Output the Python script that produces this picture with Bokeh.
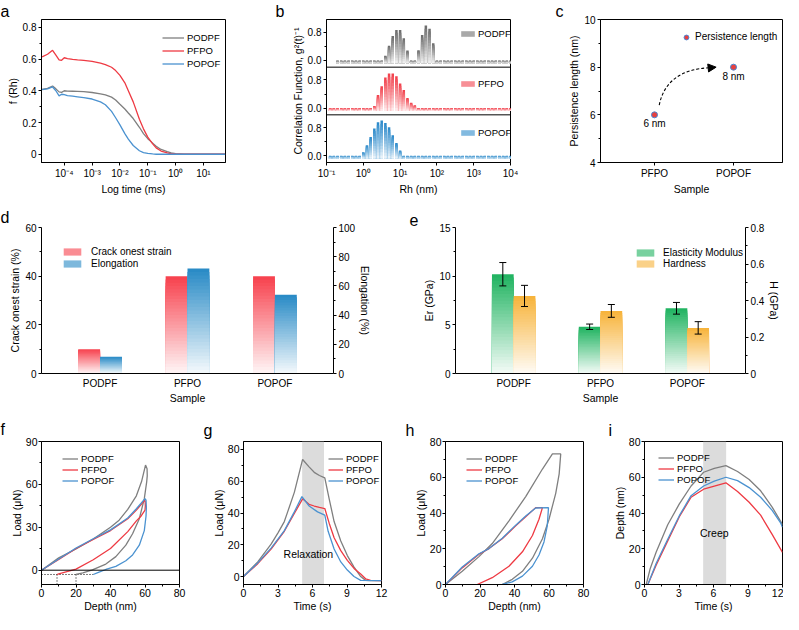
from bokeh.plotting import figure
from bokeh.layouts import row, column
from bokeh.models import (Range1d, LinearAxis, FixedTicker, Legend, LegendItem, Label, Span, Title,
                          BoxAnnotation, Arrow, NormalHead, CustomJSTickFormatter,
                          ColumnDataSource, FactorRange)
from bokeh.transform import dodge
from bokeh.core.properties import value
from bokeh.embed import file_html
from bokeh.resources import INLINE

FONT = "Liberation Sans"
GREY = "#7f7f7f"
RED = "#ee3a43"
BLUE = "#4b92d0"

series = ["PODPF", "PFPO", "POPOF"]
line_colors = [GREY, RED, BLUE]

# ---------------- (a) DLS decay ----------------
a_time = [1.6e-5, 2.5e-5, 3.8e-5, 5e-5, 6.5e-5, 8e-5, 1e-4, 1.3e-4, 2e-4, 3e-4, 5e-4, 1e-3,
          2e-3, 3e-3, 5e-3, 7e-3, 1e-2, 1.5e-2, 2e-2, 3e-2, 5e-2, 7e-2, 0.1, 0.15, 0.2, 0.3,
          0.5, 0.7, 1, 2, 5, 10, 60]
a_podpf = [0.409, 0.415, 0.430, 0.412, 0.393, 0.390, 0.400, 0.398, 0.397, 0.396, 0.394, 0.389,
           0.381, 0.374, 0.360, 0.342, 0.315, 0.285, 0.260, 0.225, 0.170, 0.130, 0.098, 0.070,
           0.050, 0.030, 0.016, 0.009, 0.004, 0.001, 0.0, 0.0, 0.0]
a_pfpo = [0.613, 0.630, 0.655, 0.625, 0.595, 0.592, 0.608, 0.603, 0.598, 0.595, 0.592, 0.585,
          0.574, 0.565, 0.548, 0.527, 0.497, 0.450, 0.400, 0.330, 0.220, 0.160, 0.108, 0.065,
          0.040, 0.020, 0.008, 0.003, 0.001, 0.0, 0.0, 0.0, 0.0]
a_popof = [0.407, 0.412, 0.424, 0.400, 0.368, 0.378, 0.375, 0.370, 0.366, 0.362, 0.357, 0.348,
           0.330, 0.312, 0.270, 0.230, 0.185, 0.130, 0.095, 0.055, 0.022, 0.010, 0.005, 0.002,
           0.0, 0.0, 0.0, 0.0, 0.0, 0.0, 0.0, 0.0, 0.0]

# ---------------- (b) size distribution (log10 Rh bins) ----------------
rh_exp = [-0.9, -0.8, -0.7, -0.6, -0.5, -0.4, -0.3, -0.2, -0.1, 0.0, 0.1, 0.2, 0.3, 0.4, 0.5,
          0.6, 0.7, 0.8, 0.9, 1.0, 1.1, 1.2, 1.3, 1.4, 1.5, 1.6, 1.7, 1.8, 1.9, 2.0, 2.1, 2.2,
          2.3, 2.4, 2.5, 2.6, 2.7, 2.8, 2.9, 3.0, 3.1, 3.2, 3.3, 3.4, 3.5, 3.6, 3.7, 3.8, 3.9, 4.0]
b_podpf = [None, None, 0, 0, 0, 0, 0, 0, 0, 0, 0, 0, 0, 0, 0,
           0.13, 0.42, 0.69, 0.86, 0.86, 0.63, 0.28, 0, 0, 0.29, 0.72, 0.99, 0.90, 0.49, 0, 0, 0,
           0, 0, 0, 0, 0, 0, 0, 0, 0, 0, 0, 0, 0, 0, 0, 0, 0, 0]
b_pfpo = [0, 0, 0, 0, 0, 0, 0, 0, 0, 0, 0, 0, 0.06, 0.37, 0.62,
          0.87, 0.98, 0.98, 0.90, 0.70, 0.51, 0.29, 0.15, 0.08, 0, 0, 0, 0, 0, 0, 0, 0,
          0, 0, 0, 0, 0, 0, 0, 0, 0, 0, 0, 0, 0, 0, 0, 0, 0, 0]
b_popof = [0, 0, 0, 0, 0, 0, 0, 0, 0, 0.10, 0.30, 0.53, 0.77, 0.95, 1.00,
           0.93, 0.81, 0.58, 0.36, 0.15, 0, 0, 0, 0, 0, 0, 0, 0, 0, 0, 0, 0,
           0, 0, 0, 0, 0, 0, 0, 0, 0, 0, 0, 0, 0, 0, 0, 0, 0, 0]

# ---------------- (c) persistence length ----------------
pl_samples = ["PFPO", "POPOF"]
pl_pos = [1, 2]
pl_nm = [6, 8]

# ---------------- (d) strain ----------------
crack_strain = [10, 40, 40]
elongation = [11.5, 72, 54]

# ---------------- (e) nanoindentation ----------------
er_mean = [10.2, 4.8, 6.7]
er_err = [1.2, 0.28, 0.6]
h_mean = [0.425, 0.343, 0.25]
h_err = [0.058, 0.035, 0.034]

# ---------------- (f) load-depth loops ----------------
f_podpf_d = [0, 10, 20, 30, 40, 45, 50, 55, 58, 60.3, 61.2, 61.3, 61.0, 59.6, 56.7, 52.8, 48.9, 43.1, 37.3, 29.5, 24, 20]
f_podpf_l = [0, 8.6, 14.8, 21.8, 30, 35, 42.5, 52, 62, 73.5, 71, 66, 62, 50, 36, 25.5, 17.5, 9.5, 4.3, 0.2, -1.8, -3]
f_pfpo_d = [0, 10, 20, 30, 40, 50, 55, 59.8, 60.1, 60.2, 60.0, 57.5, 55, 50, 40, 30, 20, 10, 9]
f_pfpo_l = [0, 7.5, 15.2, 21.5, 27.7, 36, 42, 48.8, 48.3, 45, 42, 37.5, 34.5, 27, 15.2, 7.3, 0.8, -2.5, -3]
f_popof_d = [0, 10, 20, 30, 40, 50, 55, 60, 60.6, 60.8, 60.6, 59.6, 56.7, 52.8, 48.9, 43.1, 37.3, 33, 30]
f_popof_l = [0, 7.8, 15.5, 22, 28.2, 36.5, 43, 50, 49, 44, 37.9, 27.7, 17.5, 10.7, 6.6, 2.7, 0.5, -1.5, -3]
f_cross_depth = [9, 20]
f_base_load = -3
f_dot_end = 30

# ---------------- (g) load-time (relaxation) ----------------
g_podpf_t = [0, 1.24, 2.4, 3.0, 3.55, 3.84, 4.42, 5.14, 5.7, 6.15, 6.6, 7.07, 7.45, 7.88, 8.46, 9.03, 9.6, 10.19, 10.62, 11.0, 12]
g_podpf_l = [0, 9.2, 20.4, 27.5, 34.6, 40.7, 53, 73.7, 69, 65.6, 63.6, 62.1, 48.9, 34.6, 22.4, 13.2, 6.1, 0, -2.4, -2.6, -2.6]
g_pfpo_t = [0, 1.24, 2.4, 3.55, 4.42, 5.14, 5.7, 6.15, 6.6, 7.07, 7.45, 7.88, 8.46, 9.03, 9.61, 10.19, 10.62, 11.05, 12]
g_pfpo_l = [0, 8.1, 17.3, 28.5, 39.7, 48.9, 45.5, 44.4, 43.5, 42.8, 33.6, 24.4, 16.3, 10.2, 5.1, 1.6, -1.4, -2.4, -2.6]
g_popof_t = [0, 1.24, 2.4, 3.55, 4.42, 5.08, 5.71, 6.44, 7.07, 7.36, 7.88, 8.46, 9.03, 9.61, 10.19, 12]
g_popof_l = [0, 8.6, 17.9, 28.9, 40.7, 50.3, 44.4, 40.7, 38.7, 28.5, 17.3, 9.2, 4.1, 0, -2.4, -2.6]
relax_window = [5.1, 7.0]

# ---------------- (h) load-depth (creep test) ----------------
h_podpf_d = [0, 9.7, 19.4, 27.1, 36.8, 46.5, 56.2, 62, 66.8, 65.9, 63.9, 60, 56.2, 50.4, 44.6, 38.7, 32.9]
h_podpf_l = [0, 7.4, 15.6, 22.9, 35.6, 49.2, 64.6, 73.1, 73.1, 61.9, 51, 36.5, 25.6, 14.7, 7.4, 2.9, 0]
h_pfpo_d = [0, 9.7, 19.4, 25.2, 32.9, 40.7, 46.5, 52.3, 56.2, 54.2, 50.4, 44.6, 36.8, 27.1, 18.4]
h_pfpo_l = [0, 9.3, 16.9, 20.1, 25.6, 32.8, 37.9, 43, 43, 36.5, 27.4, 18.3, 10.2, 3.8, 0]
h_popof_d = [0, 9.7, 19.4, 25.2, 32.9, 40.7, 46.5, 52.3, 59.7, 59, 57.1, 54.2, 50.4, 44.6, 38.7, 32.9]
h_popof_l = [0, 9.8, 17.2, 20.1, 25.9, 33.2, 38.3, 42.8, 43, 32.8, 23.8, 16.5, 10.2, 4.7, 1.5, 0]

# ---------------- (i) depth-time (creep) ----------------
i_podpf_t = [0.15, 0.5, 1.01, 2.02, 3.03, 4.05, 5.14, 6.07, 7.08, 8.09, 9.1, 10.1, 11.1, 11.85, 12]
i_podpf_d = [0, 9, 18, 33.4, 45.1, 55.1, 62.8, 65, 66.5, 63.2, 58.7, 52.4, 43.3, 35.2, 33.4]
i_pfpo_t = [0.29, 1.01, 2.02, 3.03, 4.05, 5.14, 6.07, 7.08, 8.09, 9.1, 10.1, 11.1, 12]
i_pfpo_d = [0, 10.8, 24.4, 37.9, 48.8, 53.3, 55.1, 56.9, 52, 46, 38.8, 28, 18]
i_popof_t = [0.29, 1.01, 2.02, 3.03, 4.05, 5.14, 6.07, 7.08, 8.09, 9.1, 10.1, 11.1, 11.85, 12]
i_popof_d = [0, 11.7, 25.3, 38.5, 49.7, 55.1, 57.8, 60, 58.1, 54.2, 48.8, 41.5, 34.3, 32.1]
creep_window = [5.1, 7.1]

# =====================================================================
SUP_JS = """
const sup = {"-": "\u207b", "0": "\u2070", "1": "\u00b9", "2": "\u00b2", "3": "\u00b3",
             "4": "\u2074", "5": "\u2075", "6": "\u2076", "7": "\u2077", "8": "\u2078", "9": "\u2079"};
const e = Math.round(Math.log10(tick));
let s = "";
for (const ch of String(e)) { s += sup[ch]; }
return "10" + s;
"""
LEG_DX = 7  # legend placement correction (px)


def style_axes(axes, tick_px="10px", lab_px="10.5px", lstand=2, astand=1):
    for ax in axes:
        ax.axis_line_color = "black"
        ax.axis_line_width = 1
        ax.major_tick_line_color = "black"
        ax.minor_tick_line_color = "black"
        ax.major_tick_in = 0
        ax.major_tick_out = 3
        ax.minor_tick_in = 0
        ax.minor_tick_out = 2
        ax.major_label_text_font = FONT
        ax.major_label_text_font_size = tick_px
        ax.major_label_text_color = "black"
        ax.axis_label_text_font = FONT
        ax.axis_label_text_font_size = lab_px
        ax.axis_label_text_font_style = "normal"
        ax.axis_label_text_color = "black"
        ax.major_label_standoff = lstand
        ax.axis_label_standoff = astand


def make_fig(w, h, bl, br, bt, bb, xr, yr, xtype="auto", box=True, tick_px="10px", lab_px="10.5px",
             lstand=2, astand=1):
    p = figure(width=w, height=h, x_range=xr, y_range=yr, x_axis_type=xtype, title=None,
               output_backend="svg", toolbar_location=None,
               min_border_left=bl, min_border_right=br, min_border_top=bt, min_border_bottom=bb)
    p.xgrid.visible = False
    p.ygrid.visible = False
    p.outline_line_color = "black" if box else None
    p.outline_line_width = 1
    p.outline_line_alpha = 1
    p.border_fill_color = "white"
    p.background_fill_color = "white"
    style_axes(p.axis, tick_px, lab_px, lstand, astand)
    return p


def letter(p, text, offset, standoff):
    p.add_layout(Title(text=text, align="left", offset=offset, standoff=standoff,
                       text_font=FONT, text_font_size="16px", text_font_style="normal",
                       text_color="black"), "above")


def add_legend(p, items, x, y, gw, gh, rh, stand, font_px):
    lg = Legend(items=items, location=(x + LEG_DX, y), orientation="vertical", padding=0, margin=0,
                spacing=0, glyph_width=int(gw), glyph_height=int(gh), label_height=int(rh), label_width=10,
                label_standoff=int(stand), label_text_font=FONT, label_text_font_size=font_px,
                label_text_color="black", border_line_color=None, background_fill_alpha=0)
    p.add_layout(lg)
    return lg


def blend(c, f):
    r, g, b = int(c[1:3], 16), int(c[3:5], 16), int(c[5:7], 16)
    return "#%02x%02x%02x" % (round(255 - (255 - r) * f), round(255 - (255 - g) * f),
                              round(255 - (255 - b) * f))


def gradient(keys, bottoms, tops, color, n, fmin=0.03):
    """Stacked slices for a vertical white->color gradient bar (top is full colour)."""
    out = {k: [] for k in keys}
    out.update(bottom=[], top=[], color=[])
    for i, (b0, t0) in enumerate(zip(bottoms, tops)):
        for j in range(n, 0, -1):
            for k in keys:
                out[k].append(keys[k][i])
            out["bottom"].append(b0)
            out["top"].append(b0 + (t0 - b0) * j / n)
            out["color"].append(blend(color, fmin + (1 - fmin) * j / n))
    return out


# =================== ROW 1 ===================
H1 = 198
BT1 = 18
FH1 = 144
BB1 = H1 - BT1 - FH1
# ---- (a)
pa = make_fig(272, H1, 41, 47, BT1, BB1, Range1d(1.52e-5, 62), Range1d(-0.052, 0.849), xtype="log")
ra = []
for ys, c in zip([a_podpf, a_pfpo, a_popof], line_colors):
    ra.append(pa.line(a_time, ys, line_color=c, line_width=1.3))
pa.xaxis.ticker = FixedTicker(ticks=[1e-4, 1e-3, 1e-2, 1e-1, 1, 10])
pa.xaxis.formatter = CustomJSTickFormatter(code=SUP_JS)
pa.yaxis.ticker = FixedTicker(ticks=[0, 0.2, 0.4, 0.6, 0.8], minor_ticks=[0.1, 0.3, 0.5, 0.7])
pa.xaxis.axis_label = "Log time (ms)"
pa.yaxis.axis_label = "f (Rh)"
add_legend(pa, [LegendItem(label=s, renderers=[r]) for s, r in zip(series, ra)],
           114, 92, 22, 13, 13, 3, "9.5px")
letter(pa, "a", -41, 0)

# ---- (b)
BAND = 1.35
BASE = 0.19
NB = 12
pb = make_fig(276, H1, 54, 38, BT1, BB1, Range1d(0.1, 1e4), Range1d(0, 3 * BAND), xtype="log")
b_colors = {"POPOF": "#2e8bcb", "PFPO": "#f2434e", "PODPF": "#6e6e6e"}
b_vals = {"PODPF": b_podpf, "PFPO": b_pfpo, "POPOF": b_popof}
b_leg_y = {"POPOF": 24.5, "PFPO": 73.5, "PODPF": 123.5}
yt, ym = [], []
for k, name in enumerate(["POPOF", "PFPO", "PODPF"]):
    base = k * BAND + BASE
    L, R, B, T = [], [], [], []
    for e, v in zip(rh_exp, b_vals[name]):
        if v is None:
            continue
        L.append(10 ** (e - 0.034))
        R.append(10 ** (e + 0.034))
        B.append(base - 0.08)
        T.append(base + v)
    data = gradient({"left": L, "right": R}, B, T, b_colors[name], NB)
    r = pb.quad(left="left", right="right", bottom="bottom", top="top", fill_color="color",
                line_color=None, source=ColumnDataSource(data))
    add_legend(pb, [LegendItem(label=name, renderers=[r], index=int(NB * 0.45))],
               126, b_leg_y[name], 17, 7, 11, 2, "9.5px")
    yt += [round(base, 2), round(base + 0.8, 2)]
    ym += [round(base + 0.4, 2)]
for k in (1, 2):
    pb.add_layout(Span(location=k * BAND, dimension="width", line_color="black", line_width=1))
pb.yaxis.ticker = FixedTicker(ticks=yt, minor_ticks=ym)
pb.yaxis.formatter = CustomJSTickFormatter(code="""
const k = Math.floor((tick - %f + 0.2) / %f);
const v = tick - %f - k * %f;
return Math.abs(v) < 0.05 ? "0.0" : v.toFixed(1);
""" % (BASE, BAND, BASE, BAND))
pb.xaxis.ticker = FixedTicker(ticks=[0.1, 1, 10, 100, 1000, 10000])
pb.xaxis.formatter = CustomJSTickFormatter(code=SUP_JS)
pb.xaxis.axis_label = "Rh (nm)"
pb.yaxis.axis_label = "Correlation Function, g\u00b2(t)\u207b\u00b9"
letter(pb, "b", -51, 0)

# ---- (c)
unit_c = 79.0
x0c = pl_pos[0] - 54 / unit_c
pc = make_fig(235, H1, 52, 1, BT1, BB1, Range1d(x0c, x0c + 182 / unit_c), Range1d(4, 10))
rc = pc.scatter(pl_pos, pl_nm, size=6, fill_color="#e8403f", line_color="#4a86d4", line_width=1)
pc.text(x=pl_pos, y=pl_nm, text=["%g nm" % v for v in pl_nm], y_offset=9, text_align="center",
        text_baseline="middle", text_font=value(FONT), text_font_size="10px", text_color="black")
pc.quadratic(x0=[pl_pos[0] + 0.06], y0=[pl_nm[0] + 0.41], x1=[pl_pos[1] - 0.29], y1=[pl_nm[1] - 0.02],
             cx=[pl_pos[0] + 0.15], cy=[pl_nm[1] - 0.1], line_color="black", line_width=1.1,
             line_dash="3 2")
pc.add_layout(Arrow(end=NormalHead(size=8, fill_color="black", line_color="black", line_width=1),
                    x_start=pl_pos[1] - 0.31, y_start=pl_nm[1] - 0.03,
                    x_end=pl_pos[1] - 0.22, y_end=pl_nm[1], line_alpha=0))
pc.xaxis.ticker = FixedTicker(ticks=pl_pos)
pc.xaxis.major_label_overrides = {p_: s for p_, s in zip(pl_pos, pl_samples)}
pc.yaxis.ticker = FixedTicker(ticks=[4, 6, 8, 10], minor_ticks=[5, 7, 9])
pc.xaxis.axis_label = "Sample"
pc.yaxis.axis_label = "Persistence length (nm)"
add_legend(pc, [LegendItem(label="Persistence length", renderers=[rc])], 73, 119.5, 12, 12, 12, 3, "10px")
letter(pc, "c", -45, 0)

# =================== ROW 2 ===================
H2 = 212
FH2 = 146
NG = 30
OFF = 0.125
BW = 0.25

# ---- (d)
pd_ = make_fig(392, H2, 41, 59, 29, H2 - 29 - FH2,
               FactorRange(factors=series, range_padding=0.17, range_padding_units="absolute"),
               Range1d(0, 60), box=False)
pd_.extra_y_ranges = {"el": Range1d(0, 100)}
d_red = gradient({"x": series}, [0, 0, 0], crack_strain, "#f7434f", NG)
d_blue = gradient({"x": series}, [0, 0, 0], elongation, "#2a8bc6", NG)
rd1 = pd_.vbar(x=dodge("x", -OFF, range=pd_.x_range), width=BW, bottom="bottom", top="top",
               fill_color="color", line_color=None, source=ColumnDataSource(d_red))
rd2 = pd_.vbar(x=dodge("x", OFF, range=pd_.x_range), width=BW, bottom="bottom", top="top",
               fill_color="color", line_color=None, source=ColumnDataSource(d_blue), y_range_name="el")
ax_el = LinearAxis(y_range_name="el", axis_label="Elongation (%)",
                   ticker=FixedTicker(ticks=[0, 20, 40, 60, 80, 100], minor_ticks=[10, 30, 50, 70, 90]))
pd_.add_layout(ax_el, "right")
style_axes([ax_el])
pd_.yaxis[0].ticker = FixedTicker(ticks=[0, 20, 40, 60], minor_ticks=[10, 30, 50])
pd_.yaxis[0].axis_label = "Crack onest strain (%)"
pd_.xaxis.axis_label = "Sample"
pd_.xaxis.major_tick_out = 0
pd_.xaxis.axis_label_standoff = 0
pd_.xaxis.major_label_standoff = 4
add_legend(pd_, [LegendItem(label="Crack onest strain", renderers=[rd1], index=int(NG * 0.4)),
                 LegendItem(label="Elongation", renderers=[rd2], index=int(NG * 0.4))],
           13, 104, 22, 9, 12, 8, "10px")
letter(pd_, "d", -41, 3)

# ---- (e)
pe = make_fig(391, H2, 63, 35, 29, H2 - 29 - FH2,
              FactorRange(factors=series, range_padding=0.17, range_padding_units="absolute"),
              Range1d(0, 15), box=False)
pe.extra_y_ranges = {"h": Range1d(0, 0.8)}
e_g = gradient({"x": series}, [0, 0, 0], er_mean, "#22b462", NG)
e_o = gradient({"x": series}, [0, 0, 0], h_mean, "#f7b43c", NG)
re1 = pe.vbar(x=dodge("x", -OFF, range=pe.x_range), width=BW, bottom="bottom", top="top",
              fill_color="color", line_color=None, source=ColumnDataSource(e_g))
re2 = pe.vbar(x=dodge("x", OFF, range=pe.x_range), width=BW, bottom="bottom", top="top",
              fill_color="color", line_color=None, source=ColumnDataSource(e_o), y_range_name="h")
src_eg = ColumnDataSource(dict(x=series, lo=[m - e for m, e in zip(er_mean, er_err)],
                               hi=[m + e for m, e in zip(er_mean, er_err)]))
src_eo = ColumnDataSource(dict(x=series, lo=[m - e for m, e in zip(h_mean, h_err)],
                               hi=[m + e for m, e in zip(h_mean, h_err)]))
for src, off, yrn in [(src_eg, -OFF, "default"), (src_eo, OFF, "h")]:
    xx = dodge("x", off, range=pe.x_range)
    pe.segment(x0=xx, y0="lo", x1=xx, y1="hi", source=src, line_color="black", line_width=1,
               y_range_name=yrn)
    for col in ("lo", "hi"):
        pe.scatter(x=xx, y=col, source=src, marker="dash", size=7, line_color="black", line_width=1,
                   y_range_name=yrn)
ax_h = LinearAxis(y_range_name="h", axis_label="H (GPa)",
                  ticker=FixedTicker(ticks=[0, 0.2, 0.4, 0.6, 0.8], minor_ticks=[0.1, 0.3, 0.5, 0.7]))
pe.add_layout(ax_h, "right")
style_axes([ax_h])
pe.yaxis[0].ticker = FixedTicker(ticks=[0, 5, 10, 15], minor_ticks=[2.5, 7.5, 12.5])
pe.yaxis[0].axis_label = "Er (GPa)"
pe.xaxis.axis_label = "Sample"
pe.xaxis.major_tick_out = 0
pe.xaxis.axis_label_standoff = 0
pe.xaxis.major_label_standoff = 4
add_legend(pe, [LegendItem(label="Elasticity Modulus", renderers=[re1], index=int(NG * 0.4)),
                LegendItem(label="Hardness", renderers=[re2], index=int(NG * 0.4))],
           172, 104, 22, 9, 11, 7, "10px")
letter(pe, "e", -46, 3)

# =================== ROW 3 ===================
H3 = 204
FH3 = 144
BT3 = 31
BB3 = H3 - BT3 - FH3
KW3 = dict(tick_px="10.5px", lab_px="10.5px", lstand=1, astand=0)
LEG3_Y = FH3 - 3.6 - 33 - 9


def lines3(p, xs_list, ys_list):
    return [p.line(xs, ys, line_color=c, line_width=1.3) for xs, ys, c in zip(xs_list, ys_list, line_colors)]


# ---- (f)
pf = make_fig(202, H3, 41, 23, BT3, BB3, Range1d(0, 80), Range1d(-10, 90), **KW3)
pf.add_layout(Span(location=0, dimension="width", line_color="black", line_width=1))
pf.segment(x0=[0] + f_cross_depth, y0=[f_base_load] * 3, x1=[f_dot_end] + f_cross_depth,
           y1=[f_base_load, -10, -10], line_color="black", line_width=1, line_dash="1 2")
rf = lines3(pf, [f_podpf_d, f_pfpo_d, f_popof_d], [f_podpf_l, f_pfpo_l, f_popof_l])
pf.xaxis.ticker = FixedTicker(ticks=[0, 20, 40, 60, 80], minor_ticks=[10, 30, 50, 70])
pf.yaxis.ticker = FixedTicker(ticks=[0, 30, 60, 90], minor_ticks=[15, 45, 75])
pf.xaxis.axis_label = "Depth (nm)"
pf.yaxis.axis_label = "Load (\u03bcN)"
add_legend(pf, [LegendItem(label=s, renderers=[r]) for s, r in zip(series, rf)],
           14, LEG3_Y, 16, 11, 11, 3, "9.5px")
letter(pf, "f", -41, 8)

# ---- (g)
pg = make_fig(202, H3, 41, 23, BT3, BB3, Range1d(0, 12), Range1d(-5, 85), **KW3)
pg.add_layout(BoxAnnotation(left=relax_window[0], right=relax_window[1], fill_color="#dcdcdc",
                            fill_alpha=1, line_alpha=0, level="underlay"))
rg = lines3(pg, [g_podpf_t, g_pfpo_t, g_popof_t], [g_podpf_l, g_pfpo_l, g_popof_l])
pg.add_layout(Label(x=5.64, y=14, text="Relaxation", text_align="center", text_baseline="middle",
                    text_font=FONT, text_font_size="10.5px", text_color="black"))
pg.xaxis.ticker = FixedTicker(ticks=[0, 3, 6, 9, 12], minor_ticks=[1.5, 4.5, 7.5, 10.5])
pg.yaxis.ticker = FixedTicker(ticks=[0, 20, 40, 60, 80], minor_ticks=[10, 30, 50, 70])
pg.xaxis.axis_label = "Time (s)"
pg.yaxis.axis_label = "Load (\u03bcN)"
add_legend(pg, [LegendItem(label=s, renderers=[r]) for s, r in zip(series, rg)],
           78, LEG3_Y, 15, 11, 11, 3, "9.5px")
letter(pg, "g", -40, 5)

# ---- (h)
ph = make_fig(202, H3, 41, 23, BT3, BB3, Range1d(0, 80), Range1d(0, 80), **KW3)
rh = lines3(ph, [h_podpf_d, h_pfpo_d, h_popof_d], [h_podpf_l, h_pfpo_l, h_popof_l])
ph.xaxis.ticker = FixedTicker(ticks=[0, 20, 40, 60, 80], minor_ticks=[10, 30, 50, 70])
ph.yaxis.ticker = FixedTicker(ticks=[0, 20, 40, 60, 80], minor_ticks=[10, 30, 50, 70])
ph.xaxis.axis_label = "Depth (nm)"
ph.yaxis.axis_label = "Load (\u03bcN)"
add_legend(ph, [LegendItem(label=s, renderers=[r]) for s, r in zip(series, rh)],
           14, LEG3_Y, 16, 11, 11, 3, "9.5px")
letter(ph, "h", -40, 5)

# ---- (i)
pi = make_fig(177, H3, 38, 1, BT3, BB3, Range1d(0, 12), Range1d(0, 80), **KW3)
pi.add_layout(BoxAnnotation(left=creep_window[0], right=creep_window[1], fill_color="#dcdcdc",
                            fill_alpha=1, line_alpha=0, level="underlay"))
ri = lines3(pi, [i_podpf_t, i_pfpo_t, i_popof_t], [i_podpf_d, i_pfpo_d, i_popof_d])
pi.add_layout(Label(x=6.07, y=29, text="Creep", text_align="center", text_baseline="middle",
                    text_font=FONT, text_font_size="10.5px", text_color="black"))
pi.xaxis.ticker = FixedTicker(ticks=[0, 3, 6, 9, 12], minor_ticks=[1.5, 4.5, 7.5, 10.5])
pi.yaxis.ticker = FixedTicker(ticks=[0, 20, 40, 60, 80], minor_ticks=[10, 30, 50, 70])
pi.xaxis.axis_label = "Time (s)"
pi.yaxis.axis_label = "Depth (nm)"
add_legend(pi, [LegendItem(label=s, renderers=[r]) for s, r in zip(series, ri)],
           7, LEG3_Y + 1, 16, 11, 11, 3, "9.5px")
letter(pi, "i", -36, 5)

layout = column(row(pa, pb, pc), row(pd_, pe), row(pf, pg, ph, pi))
open("out.html", "w", encoding="utf-8").write(file_html(layout, INLINE))
